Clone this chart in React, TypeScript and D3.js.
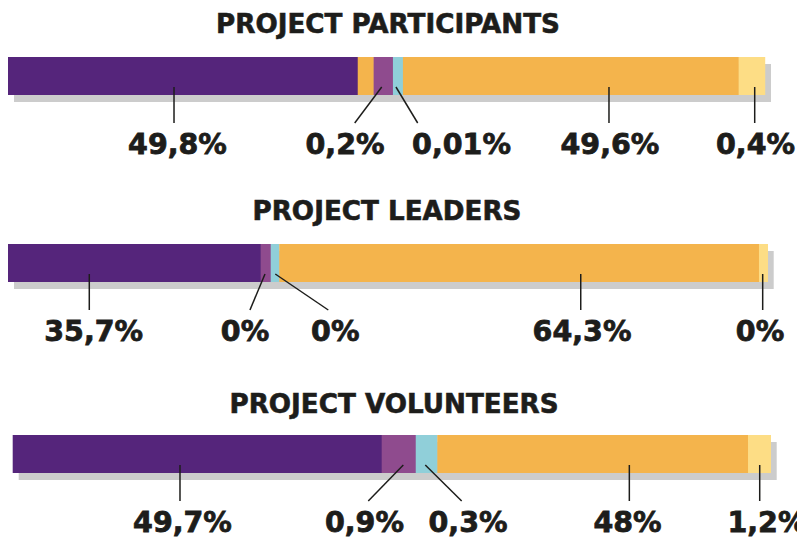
import React from "react";
import * as d3 from "d3";

// ---- data ----
const groupTitles = ["PROJECT PARTICIPANTS", "PROJECT LEADERS", "PROJECT VOLUNTEERS"];

const categoryKeys = ["purple", "pink", "blue", "orange", "yellow"];
const categoryColors = ["#55257B", "#8F4B8E", "#90CFD9", "#F4B44C", "#FDDD85"];

// segment order and drawn shares (percent of bar length, as drawn in the infographic)
const participantsKeys = ["purple", "orange", "pink", "blue", "orange", "yellow"];
const participantsShares = [46.2, 2.1, 2.55, 1.32, 44.35, 3.47];
const participantsLabels = ["49,8%", "", "0,2%", "0,01%", "49,6%", "0,4%"];

const leadersKeys = ["purple", "pink", "blue", "orange", "yellow"];
const leadersShares = [33.26, 1.32, 1.13, 63.14, 1.15];
const leadersLabels = ["35,7%", "0%", "0%", "64,3%", "0%"];

const volunteersKeys = ["purple", "pink", "blue", "orange", "yellow"];
const volunteersShares = [48.68, 4.49, 2.85, 40.99, 2.99];
const volunteersLabels = ["49,7%", "0,9%", "0,3%", "48%", "1,2%"];

// label leader anchors in bar units: [line top, line bottom, text centre]
const participantsAnchors = [[21.93, 21.93, 22.39], null, [49.37, 45.8, 44.52], [51.25, 54.12, 59.91], [79.39, 79.39, 79.52], [98.64, 98.64, 98.75]];
const leadersAnchors = [[10.7, 10.7, 11.28], [33.83, 31.85, 31.2], [35.18, 42.16, 43.08], [75.39, 75.39, 75.56], [99.34, 99.34, 98.99]];
const volunteersAnchors = [[22.07, 22.07, 22.4], [51.53, 46.91, 46.41], [54.43, 59.23, 60.07], [81.35, 81.35, 81.11], [98.55, 98.55, 99.51]];

// ---- layout ----
const W = 797;
const H = 538;
const FONT = "'DejaVu Sans', sans-serif";
const TEXT = "#1D1D1B";
const SHADOW = "#CCCCCC";
const BAR_H = 38;
const SHADOW_DX = 6;
const SHADOW_DY = 7;

const panels = [
  { keys: participantsKeys, shares: participantsShares, labels: participantsLabels, anchors: participantsAnchors, x0: 8, x1: 765, y: 57, titleY: 33, titleX: 388 },
  { keys: leadersKeys, shares: leadersShares, labels: leadersLabels, anchors: leadersAnchors, x0: 8, x1: 767.7, y: 244, titleY: 219.5, titleX: 387 },
  { keys: volunteersKeys, shares: volunteersShares, labels: volunteersLabels, anchors: volunteersAnchors, x0: 12.7, x1: 770.7, y: 435, titleY: 413, titleX: 394 },
];

const color = d3.scaleOrdinal<string, string>().domain(categoryKeys).range(categoryColors);

export default function App() {
  return (
    <svg
      width={W}
      height={H}
      viewBox={`0 0 ${W} ${H}`}
      style={{ position: "absolute", left: 0, top: 0, background: "#fff" }}
    >
      {panels.map((p, pi) => {
        const x = d3.scaleLinear().domain([0, 100]).range([p.x0, p.x1]);
        const ends = Array.from(d3.cumsum(p.shares));
        const starts = [0, ...ends.slice(0, -1)];
        const bottom = p.y + BAR_H;
        return (
          <g key={pi}>
            <text
              x={p.titleX}
              y={p.titleY}
              textAnchor="middle"
              fontFamily={FONT}
              fontWeight="bold"
              fontSize={26.2}
              fill={TEXT}
              stroke={TEXT}
              strokeWidth={0.6}
            >
              {groupTitles[pi]}
            </text>
            <rect
              x={x(0) + SHADOW_DX}
              y={p.y + SHADOW_DY}
              width={x(100) - x(0)}
              height={BAR_H}
              fill={SHADOW}
            />
            {p.shares.map((s, i) => (
              <rect
                key={i}
                x={x(starts[i])}
                y={p.y}
                width={x(ends[i]) - x(starts[i]) + 0.3}
                height={BAR_H}
                fill={color(p.keys[i])}
              />
            ))}
            {p.labels.map((lab, i) => {
              const a = p.anchors[i];
              if (!lab || !a) return null;
              return (
                <g key={"l" + i}>
                  <line
                    x1={x(a[0])}
                    y1={bottom - 8}
                    x2={x(a[1])}
                    y2={bottom + 28}
                    stroke={TEXT}
                    strokeWidth={1.5}
                  />
                  <text
                    x={x(a[2])}
                    y={bottom + 59}
                    textAnchor="middle"
                    fontFamily={FONT}
                    fontWeight="bold"
                    fontSize={28.5}
                    fill={TEXT}
                    stroke={TEXT}
                    strokeWidth={0.8}
                  >
                    {lab}
                  </text>
                </g>
              );
            })}
          </g>
        );
      })}
    </svg>
  );
}
